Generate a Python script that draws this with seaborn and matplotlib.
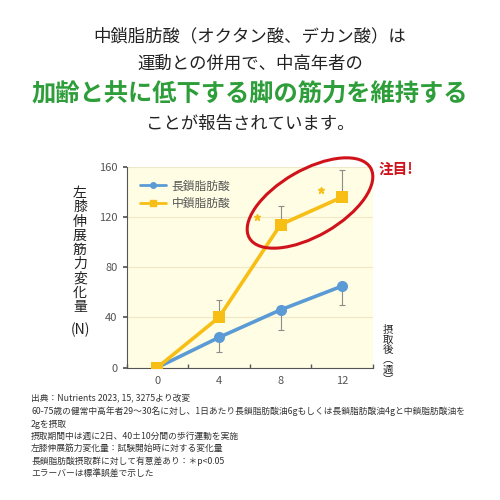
import numpy as np
import pandas as pd
import matplotlib
matplotlib.use("Agg")
import matplotlib.pyplot as plt
import seaborn as sns
from matplotlib.patches import Ellipse
from matplotlib.lines import Line2D

# data
weeks = [0, 4, 8, 12]
long_chain = [0, 24, 46, 65]
long_chain_err = [0, 12, 16, 15]
medium_chain = [0, 40, 114, 136]
medium_chain_err = [0, 14, 15, 22]
series_names = ["長鎖脂肪酸", "中鎖脂肪酸"]
star_weeks = [6.5, 10.6]
star_values = [120, 142]

BLUE = "#5B9BD5"
YELLOW = "#F7BE16"
GREEN = "#2E9E3A"
RED = "#D0121B"

sns.set_theme(style="white")
plt.rcParams['font.family'] = ['Noto Sans CJK JP', 'DejaVu Sans']

df = pd.DataFrame({
    "week": weeks * 2,
    "value": long_chain + medium_chain,
    "group": [series_names[0]] * 4 + [series_names[1]] * 4,
})

fig = plt.figure(figsize=(5, 5), dpi=100)
fig.patch.set_facecolor("white")
ax = fig.add_axes([0.253, 0.265, 0.493, 0.401])
ax.set_facecolor("#FFFDE3")

# error bars (one-sided)
ax.errorbar(weeks, long_chain, yerr=[long_chain_err, [0] * 4], fmt="none",
            ecolor="#8C8C8C", elinewidth=0.8, capsize=2.5, capthick=0.8, zorder=2)
ax.errorbar(weeks, medium_chain, yerr=[[0] * 4, medium_chain_err], fmt="none",
            ecolor="#8C8C8C", elinewidth=0.8, capsize=2.5, capthick=0.8, zorder=2)

sns.lineplot(data=df, x="week", y="value", hue="group", style="group",
             palette=[BLUE, YELLOW], markers=["o", "s"], dashes=False,
             markersize=8, linewidth=2.6, markeredgewidth=0, ax=ax, legend=False, zorder=3)

ax.plot(star_weeks, star_values, linestyle="none", marker="*", markersize=5,
        color=YELLOW, zorder=3)

ax.set_xlim(-2, 14)
ax.set_ylim(0, 160)
ax.set_xticks(weeks)
ax.set_xticks([-2, 2, 6, 10, 14], minor=True)
ax.set_yticks([0, 40, 80, 120, 160])
ax.tick_params(axis="x", which="major", length=0, labelsize=8, labelcolor="#555555", pad=6)
ax.tick_params(axis="x", which="minor", length=3, direction="in", color="#555555", bottom=True)
ax.tick_params(axis="y", length=3, direction="out", color="#555555", labelsize=8,
               labelcolor="#555555", left=True)
ax.grid(axis="y", color="#EDE8C8", linewidth=0.8)
ax.set_axisbelow(True)
for s in ["top", "right"]:
    ax.spines[s].set_visible(False)
for s in ["left", "bottom"]:
    ax.spines[s].set_color("#555555")
    ax.spines[s].set_linewidth(0.8)
ax.set_xlabel("")
ax.set_ylabel("")

handles = [Line2D([], [], color=BLUE, marker="o", markersize=4, linewidth=2),
           Line2D([], [], color=YELLOW, marker="s", markersize=4, linewidth=2)]
leg = ax.legend(handles, series_names, loc="upper left", bbox_to_anchor=(0.01, 0.99),
                frameon=False, fontsize=8.5, handlelength=2.2, handletextpad=0.5,
                labelspacing=0.35, labelcolor="#555555")

# red ellipse highlight (pixel geometry)
ell = Ellipse((3.10, 2.97), 1.40, 0.66, angle=30, transform=fig.dpi_scale_trans,
              fill=False, edgecolor=RED, linewidth=2.2, clip_on=False)
fig.add_artist(ell)
fig.text(0.792, 0.662, "注目!", color=RED, fontsize=10.5, fontweight="bold",
         ha="center", va="center")

# y label, stacked vertically
fig.text(0.160, 0.50, "\n".join("左膝伸展筋力変化量"), fontsize=10, ha="center",
         va="center", linespacing=1.02, color="#222222")
fig.text(0.160, 0.341, "(N)", fontsize=10, ha="center", va="center", color="#222222")
fig.text(0.775, 0.29, "\n".join("摂取後") + "\n︵\n週\n︶", fontsize=7.5, ha="center",
         va="center", linespacing=1.0, color="#222222")

# headline
fig.text(0.5, 0.928, "中鎖脂肪酸（オクタン酸、デカン酸）は", fontsize=12.5,
         ha="center", va="center", color="#222222")
fig.text(0.5, 0.873, "運動との併用で、中高年者の", fontsize=12.5,
         ha="center", va="center", color="#222222")
fig.text(0.5, 0.813, "加齢と共に低下する脚の筋力を維持する", fontsize=17.5,
         fontweight="bold", ha="center", va="center", color=GREEN)
fig.text(0.5, 0.753, "ことが報告されています。", fontsize=12.5,
         ha="center", va="center", color="#222222")

notes = [
    "出典：Nutrients 2023, 15, 3275より改変",
    "60-75歳の健常中高年者29～30名に対し、1日あたり長鎖脂肪酸油6gもしくは長鎖脂肪酸油4gと中鎖脂肪酸油を",
    "2gを摂取",
    "摂取期間中は週に2日、40±10分間の歩行運動を実施",
    "左膝伸展筋力変化量：試験開始時に対する変化量",
    "長鎖脂肪酸摂取群に対して有意差あり：＊p<0.05",
    "エラーバーは標準誤差で示した",
]
fig.text(0.062, 0.212, "\n".join(notes), fontsize=6.3, ha="left", va="top",
         linespacing=1.45, color="#333333")

fig.savefig("out.png", dpi=100, facecolor="white")
